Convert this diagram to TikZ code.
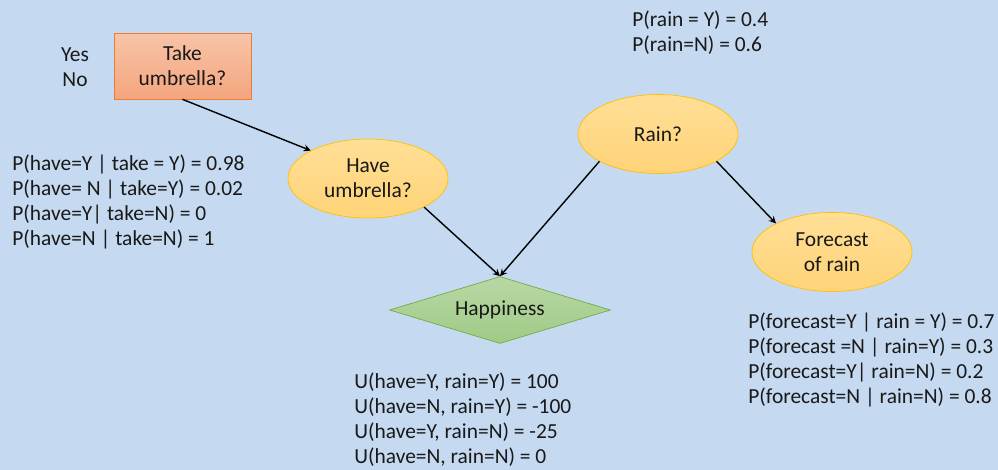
\documentclass[tikz,border=0pt]{standalone}
\usepackage{fontspec}
\setmainfont{Carlito}
\usepackage{xcolor}
\usepackage{tikz}
\usetikzlibrary{shapes,arrows,positioning,calc}
\definecolor{bgblue}{RGB}{197,217,241}
\definecolor{chanceline}{RGB}{255,192,0}
\definecolor{chancetop}{RGB}{255,223,150}
\definecolor{chancebot}{RGB}{255,211,120}
\definecolor{decline}{RGB}{237,125,49}
\definecolor{dectop}{RGB}{248,196,168}
\definecolor{decbot}{RGB}{244,165,126}
\definecolor{utilline}{RGB}{112,173,71}
\definecolor{utiltop}{RGB}{184,216,164}
\definecolor{utilbot}{RGB}{160,202,134}

\begin{document}
\begin{tikzpicture}[
    x=0.02cm, y=-0.02cm,
    every node/.style={font=\fontsize{12.2}{14.2}\selectfont, text=black!90},
    decision/.style={draw=decline, top color=dectop, bottom color=decbot, minimum width=2.74cm, minimum height=1.32cm, align=center, inner sep=0pt},
    chance/.style={ellipse, draw=chanceline, top color=chancetop, bottom color=chancebot, minimum width=3.2cm, minimum height=1.58cm, align=center, inner sep=0pt},
    utility/.style={diamond, aspect=3.3, draw=utilline, top color=utiltop, bottom color=utilbot, minimum width=4.42cm, minimum height=1.34cm, inner sep=0pt},
    table/.style={align=left, anchor=west, inner sep=0pt},
    link/.style={->, >=stealth, line width=0.8pt, black}
]
    % Background
    \fill[bgblue] (0,0) rectangle (998,470);
    \useasboundingbox (0,0) rectangle (998,470);

    % Decision, chance and utility nodes
    \node[decision] (take) at (182.5,66) {Take\\umbrella?};
    \node[align=center] (options) at (75,67) {Yes\\No};
    \node[chance] (have) at (368,178.5) {Have\\umbrella?};
    \node[chance] (rain) at (658,134) {Rain?};
    \node[chance] (forecast) at (832,252) {Forecast\\of rain};
    \node[utility] (happy) at (500,310) {Happiness};

    % Links
    \draw[link] (take.south) -- (have.154);
    \draw[link] (have.-27) -- (happy.north);
    \draw[link] (rain.205) -- (happy.north);
    \draw[link] (rain.-25) -- (forecast.153);

    % Tables
    \node[table] (ptake) at (12,201.5) {P(have=Y | take = Y) = 0.98\\P(have= N | take=Y) = 0.02\\P(have=Y| take=N) = 0\\P(have=N | take=N) = 1};
    \node[table] (prain) at (632,32.5) {P(rain = Y) = 0.4\\P(rain=N) = 0.6};
    \node[table] (pfore) at (748,359.5) {P(forecast=Y | rain = Y) = 0.7\\P(forecast =N | rain=Y) = 0.3\\P(forecast=Y| rain=N) = 0.2\\P(forecast=N | rain=N) = 0.8};
    \node[table] (util) at (354,419.5) {U(have=Y, rain=Y) = 100\\U(have=N, rain=Y) = -100\\U(have=Y, rain=N) = -25\\U(have=N, rain=N) = 0};
\end{tikzpicture}
\end{document}
